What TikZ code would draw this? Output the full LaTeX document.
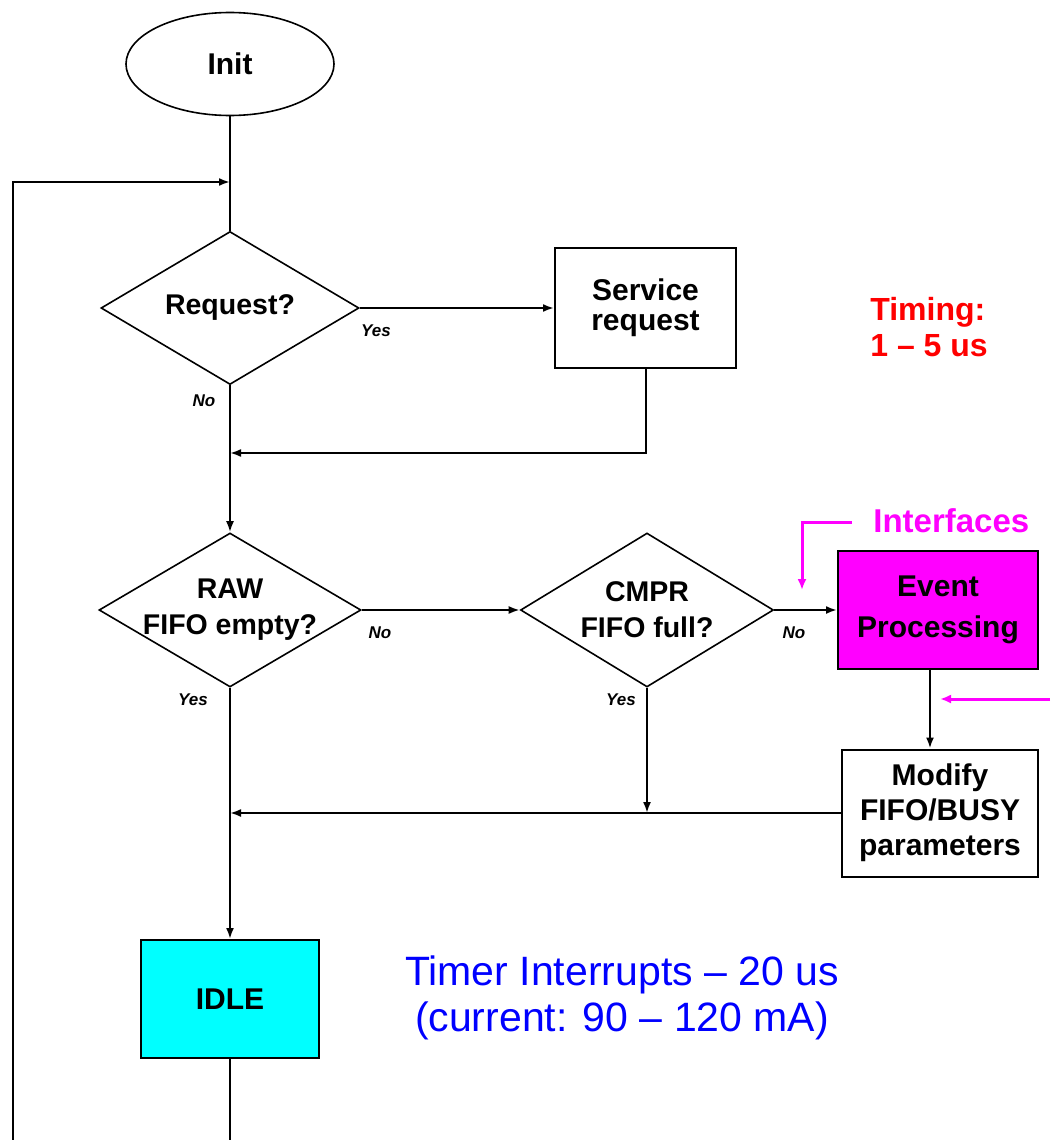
\documentclass[tikz,border=0pt]{standalone}
\usepackage{fontspec}
\setmainfont{Liberation Sans}
\usetikzlibrary{shapes.geometric,arrows.meta,calc}
\definecolor{mag}{RGB}{255,0,255}
\definecolor{cyn}{RGB}{0,255,255}
\definecolor{rd}{RGB}{255,0,0}
\definecolor{bl}{RGB}{0,0,255}
\tikzset{
  x=1pt,y=-1pt,
  every path/.style={line width=2pt},
  arr/.style={draw=black,line width=2pt,-{Latex[length=11pt,width=8pt]}},
  magarr/.style={draw=mag,line width=3pt,-{Latex[length=11pt,width=9pt]}},
  box/.style={draw=black,line width=2pt,rectangle,inner sep=0pt,align=center,
    font=\fontsize{30}{35}\selectfont\bfseries},
  dec/.style={draw=black,line width=1.6pt,diamond,inner sep=0pt},
  dectext/.style={font=\fontsize{28.5}{36}\selectfont\bfseries,align=center},
  yn/.style={font=\fontsize{17}{20}\selectfont\bfseries\itshape,inner sep=0pt},
}
\begin{document}
\begin{tikzpicture}
\useasboundingbox (0,0) rectangle (1050,1140);
\fill[white] (0,0) rectangle (1050,1140);

% nodes
\node[draw=black,line width=1.6pt,ellipse,minimum width=208pt,minimum height=103pt,inner sep=0pt,
  font=\fontsize{30}{34}\selectfont\bfseries] (init) at (230,64) {Init};
\node[dec,minimum width=258pt,minimum height=153pt,label={[dectext]center:Request?}] (req) at (230,308) {};
\node[box,minimum width=181pt,minimum height=120pt,font=\fontsize{30}{30}\selectfont\bfseries] (svc) at (645.5,308) {Service\\request};
\node[dec,minimum width=262pt,minimum height=154pt,label={[dectext]center:RAW\\FIFO empty?}] (raw) at (230,610) {};
\node[dec,minimum width=253pt,minimum height=154pt,label={[dectext]center:CMPR\\FIFO full?}] (cmpr) at (647,610) {};
\node[box,fill=mag,minimum width=200pt,minimum height=118pt,font=\fontsize{30}{41}\selectfont\bfseries] (event) at (938,610) {Event\\Processing};
\node[box,minimum width=196pt,minimum height=127pt] (modify) at (940,813) {Modify\\FIFO/BUSY\\parameters};
\node[box,fill=cyn,minimum width=178pt,minimum height=118pt] (idle) at (230,999) {IDLE};

% free coordinates
\coordinate (m0) at (230,182);
\coordinate (m1) at (230,453);
\coordinate (m2) at (230,813);
\coordinate (m3) at (647,813);
\coordinate (loopbot) at (13,1140);
\coordinate (idlebot) at (230,1140);
\coordinate (if1) at (852,522);
\coordinate (if2) at (802,590);
\coordinate (ia) at (1050,699);
\coordinate (ib) at (940,699);

% connectors
\draw (init.south) -- (req.north);
\draw[arr] (loopbot) |- (m0);
\draw[arr] (req.east) -- (svc.west);
\draw[arr] (svc.south) |- (m1);
\draw[arr] (req.south) -- (raw.north);
\draw[arr] (raw.east) -- (cmpr.west);
\draw[arr] (cmpr.east) -- (event.west);
\draw[arr] ([xshift=-8pt]event.south) -- ([xshift=-10pt]modify.north);
\draw[arr] (cmpr.south) -- (m3);
\draw[arr] (modify.west) -- (m2);
\draw[arr] (raw.south) -- (idle.north);
\draw (idle.south) -- (idlebot);
\draw[magarr] (if1) -| (if2);
\draw[magarr] (ia) -- (ib);

% yes/no labels
\node[yn] (l1) at (376,331) {Yes};
\node[yn] (l2) at (204,401) {No};
\node[yn] (l3) at (380,633) {No};
\node[yn] (l4) at (193,700) {Yes};
\node[yn] (l5) at (794,633) {No};
\node[yn] (l6) at (621,700) {Yes};

% annotations
\node[text=rd,font=\fontsize{32}{36}\selectfont\bfseries,align=left,anchor=west] (timing) at (866,327) {Timing:\\1 -- 5 us};
\node[text=mag,font=\fontsize{33}{34}\selectfont\bfseries,anchor=west] (intf) at (869,521) {Interfaces};
\node[text=bl,font=\fontsize{41}{46}\selectfont,align=center] (timer) at (622,998) {Timer Interrupts -- 20 us\\(current: 90 -- 120 mA)};
\end{tikzpicture}
\end{document}
